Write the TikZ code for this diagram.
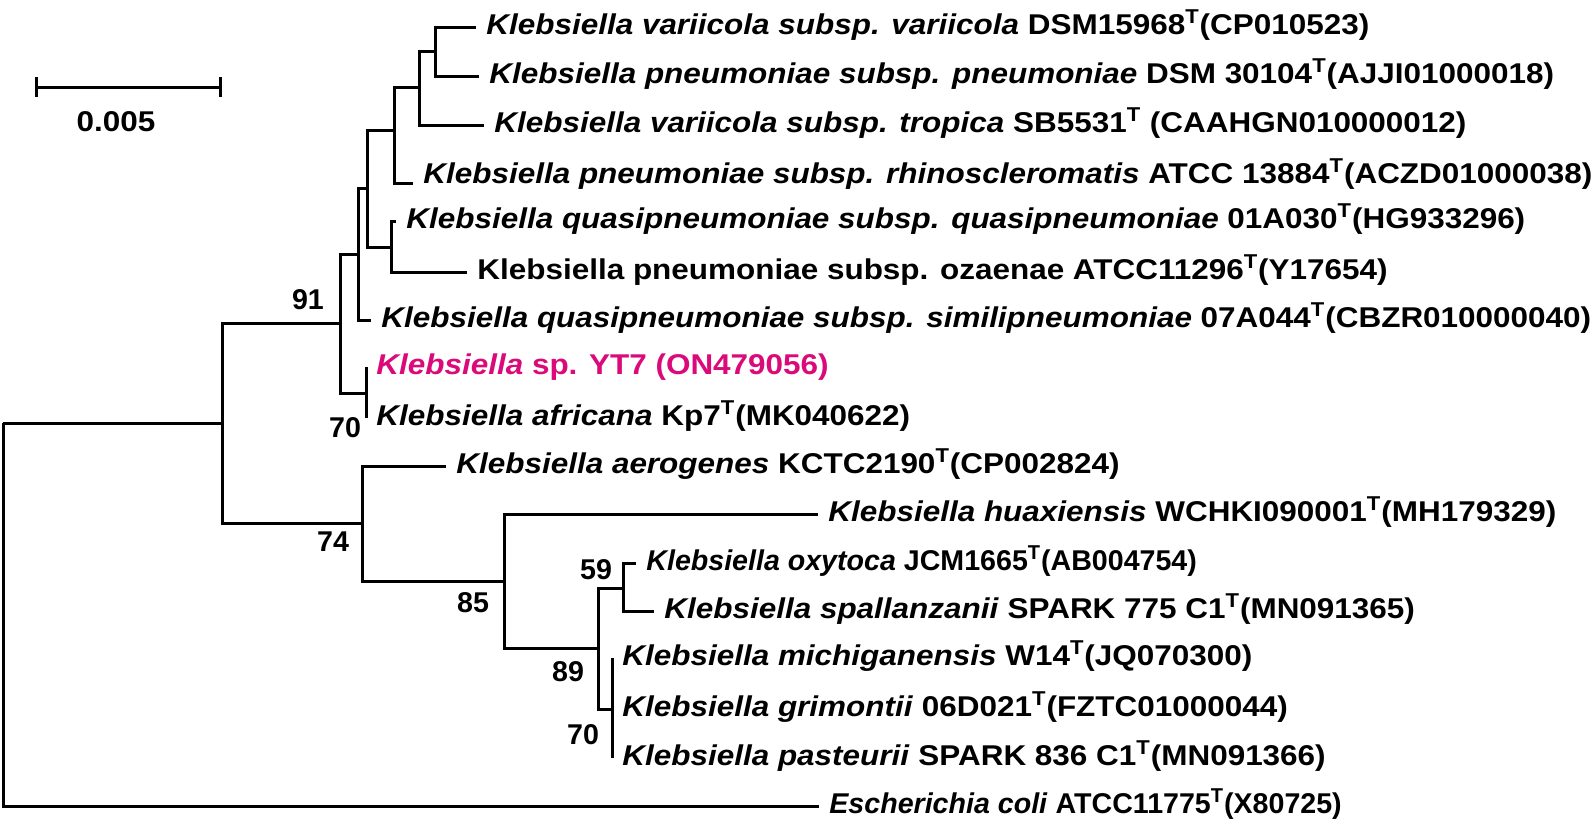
\documentclass[tikz,border=0pt]{standalone}
\usepackage{fontspec}
\setmainfont{Liberation Sans}[FakeStretch=1.1]
\newfontfamily\plainface{Liberation Sans}
\usetikzlibrary{arrows.meta}
\definecolor{query}{HTML}{DA0A7A}
\tikzset{
  branch/.style={draw=black, line width=1.5pt},
  leaf/.style={anchor=base west, inner sep=0pt, xshift=5pt, yshift=-3.5pt, font=\bfseries\fontsize{14.3}{16}\selectfont},
  plainleaf/.style={leaf, font=\plainface\bfseries\fontsize{14.3}{16}\selectfont},
  boot/.style={inner sep=0pt, font=\plainface\bfseries\fontsize{14.3}{16}\selectfont},
}

\begin{document}
\begin{tikzpicture}[x=0.5pt, y=-0.5pt]
  \useasboundingbox (0,0) rectangle (1594,820);

  % scale bar
  \draw[branch, {Bar[width=10pt]}-{Bar[width=10pt]}] (35,87) -- (222,87);
  \node[boot, font=\bfseries\fontsize{14.3}{16}\selectfont] (scale) at (116,122) {0.005};

  % inner nodes
  \coordinate (root) at (3,423);
  \coordinate (nB) at (222,423);
  \coordinate (n91) at (340,323);
  \coordinate (nC) at (358,254);
  \coordinate (nD) at (367,188);
  \coordinate (nE) at (394,130);
  \coordinate (nF) at (419,87);
  \coordinate (nG) at (435,51);
  \coordinate (nH) at (391,247);
  \coordinate (nI) at (366,393);
  \coordinate (n74) at (362,523);
  \coordinate (n85) at (504,581);
  \coordinate (n89) at (598,648);
  \coordinate (n59) at (623,588);
  \coordinate (n70) at (612,709);

  % tips
  \coordinate (t1) at (476,27);
  \coordinate (t2) at (479,76);
  \coordinate (t3) at (484,125);
  \coordinate (t4) at (413,183);
  \coordinate (t5) at (396,221);
  \coordinate (t6) at (467,272);
  \coordinate (t7) at (371,320);
  \coordinate (t8) at (366,367);
  \coordinate (t9) at (366,418);
  \coordinate (t10) at (446,466);
  \coordinate (t11) at (818,514);
  \coordinate (t12) at (636,563);
  \coordinate (t13) at (654,611);
  \coordinate (t14) at (612,658);
  \coordinate (t15) at (612,709);
  \coordinate (t16) at (612,758);
  \coordinate (t17) at (819,806);

  \foreach \a/\b in {root/nB, root/t17, nB/n91, nB/n74, n91/nC, n91/nI,
      nC/nD, nC/t7, nD/nE, nD/nH, nE/nF, nE/t4, nF/nG, nF/t3, nG/t1, nG/t2,
      nH/t5, nH/t6, nI/t8, nI/t9, n74/t10, n74/n85, n85/t11, n85/n89,
      n89/n59, n89/n70, n59/t12, n59/t13, n70/t14, n70/t15, n70/t16}
    \draw[branch] (\a) |- (\b);

  % taxa
  \node[leaf] (l1) at (t1) {\textit{Klebsiella variicola subsp. variicola} DSM15968\textsuperscript{T}(CP010523)};
  \node[leaf] (l2) at (t2) {\textit{Klebsiella pneumoniae subsp. pneumoniae} DSM 30104\textsuperscript{T}(AJJI01000018)};
  \node[leaf] (l3) at (t3) {\textit{Klebsiella variicola subsp. tropica} SB5531\textsuperscript{T} (CAAHGN010000012)};
  \node[leaf, yshift=3.5pt] (l4) at (t4) {\textit{Klebsiella pneumoniae subsp. rhinoscleromatis} ATCC 13884\textsuperscript{T}(ACZD01000038)};
  \node[leaf] (l5) at (t5) {\textit{Klebsiella quasipneumoniae subsp. quasipneumoniae} 01A030\textsuperscript{T}(HG933296)};
  \node[leaf] (l6) at (t6) {Klebsiella pneumoniae subsp. ozaenae ATCC11296\textsuperscript{T}(Y17654)};
  \node[leaf] (l7) at (t7) {\textit{Klebsiella quasipneumoniae subsp. similipneumoniae} 07A044\textsuperscript{T}(CBZR010000040)};
  \node[leaf, text=query] (l8) at (t8) {\textit{Klebsiella} sp. YT7 (ON479056)};
  \node[leaf] (l9) at (t9) {\textit{Klebsiella africana} Kp7\textsuperscript{T}(MK040622)};
  \node[leaf] (l10) at (t10) {\textit{Klebsiella aerogenes} KCTC2190\textsuperscript{T}(CP002824)};
  \node[leaf] (l11) at (t11) {\textit{Klebsiella huaxiensis} WCHKI090001\textsuperscript{T}(MH179329)};
  \node[plainleaf] (l12) at (t12) {\textit{Klebsiella oxytoca} JCM1665\textsuperscript{T}(AB004754)};
  \node[leaf] (l13) at (t13) {\textit{Klebsiella spallanzanii} SPARK 775 C1\textsuperscript{T}(MN091365)};
  \node[leaf] (l14) at (t14) {\textit{Klebsiella michiganensis} W14\textsuperscript{T}(JQ070300)};
  \node[leaf] (l15) at (t15) {\textit{Klebsiella grimontii} 06D021\textsuperscript{T}(FZTC01000044)};
  \node[leaf] (l16) at (t16) {\textit{Klebsiella pasteurii} SPARK 836 C1\textsuperscript{T}(MN091366)};
  \node[plainleaf] (l17) at (t17) {\textit{Escherichia coli} ATCC11775\textsuperscript{T}(X80725)};

  % bootstrap values
  \node[boot] (b91) at (308,300) {91};
  \node[boot] (b70a) at (345,428) {70};
  \node[boot] (b74) at (333,542) {74};
  \node[boot] (b85) at (473,603) {85};
  \node[boot] (b59) at (596,570) {59};
  \node[boot] (b89) at (568,672) {89};
  \node[boot] (b70b) at (583,735) {70};
\end{tikzpicture}
\end{document}
